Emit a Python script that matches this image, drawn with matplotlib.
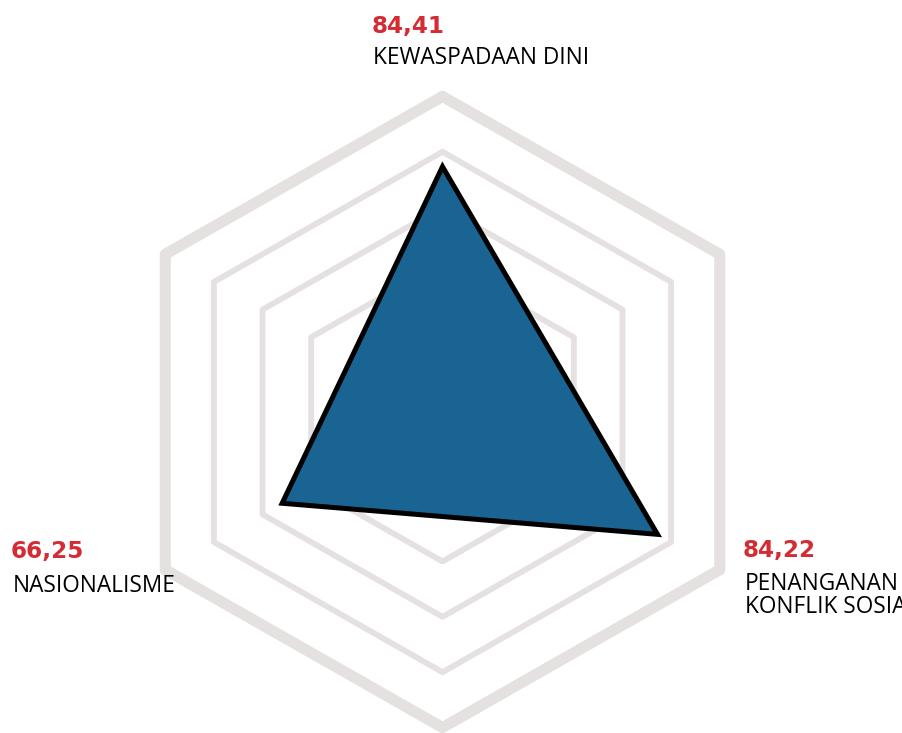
import numpy as np
import matplotlib
matplotlib.use("Agg")
import matplotlib.pyplot as plt

# Radar data: three scored dimensions on a six-spoke hexagonal grid
categories = ["KEWASPADAAN DINI", "PENANGANAN\nKONFLIK SOSIAL", "NASIONALISME"]
values = [84.41, 84.22, 66.25]
value_labels = ["84,41", "84,22", "66,25"]
spoke_of_category = [0, 2, 4]          # which of the six spokes each category sits on
ring_levels = [56.7, 72.7, 88.7, 104.7]
r_min = 13.5                            # value at the centre of the chart

W, H, DPI = 903, 733, 100
fig = plt.figure(figsize=(W / DPI, H / DPI), dpi=DPI)
ax = fig.add_axes([0, 0, 1, 1])
ax.set_axis_off()

# data limits chosen so the chart centre sits left of the middle and slightly high
kx, ky = 3.51, 3.46
cx, cy = 442.5, 412.0
ax.set_xlim(-cx / kx, (W - cx) / kx)
ax.set_ylim(-(H - cy) / ky, cy / ky)

angles = np.deg2rad(90 - 60 * np.arange(6))


def to_xy(radius_vals, spokes):
    r = np.asarray(radius_vals, dtype=float) - r_min
    th = angles[np.asarray(spokes)]
    return r * np.cos(th), r * np.sin(th)


ring_color = "#E5E1E0"
for i, lvl in enumerate(ring_levels):
    spokes = list(range(6)) + [0]
    x, y = to_xy([lvl] * 7, spokes)
    lw = 8.0 if i == len(ring_levels) - 1 else 4.2
    ax.plot(x, y, color=ring_color, lw=lw, solid_joinstyle="round",
            solid_capstyle="round", zorder=1)

px, py = to_xy(values, spoke_of_category)
ax.fill(px, py, facecolor="#1A6494", edgecolor="black", lw=3.6,
        joinstyle="miter", zorder=3)

red = "#D52B33"
num_font = dict(family="DejaVu Sans", weight="bold", size=16.7, color=red)
lab_font = dict(family="Open Sans", size=16.3, color="black")


def ftext(x_px, y_px, s, **kw):
    fig.text(x_px / W, 1 - y_px / H, s, ha="left", va="baseline", **kw)


# top spoke
ftext(372, 33, value_labels[0], **num_font)
ftext(373, 64, categories[0], **lab_font)
# lower-right spoke (two-line label, positioned by its last baseline)
ftext(743, 557, value_labels[1], **num_font)
ftext(745, 613, categories[1], linespacing=0.93, **lab_font)
# lower-left spoke
ftext(11, 558, value_labels[2], **num_font)
ftext(13, 592, categories[2], **lab_font)

fig.savefig("out.png", dpi=DPI)
